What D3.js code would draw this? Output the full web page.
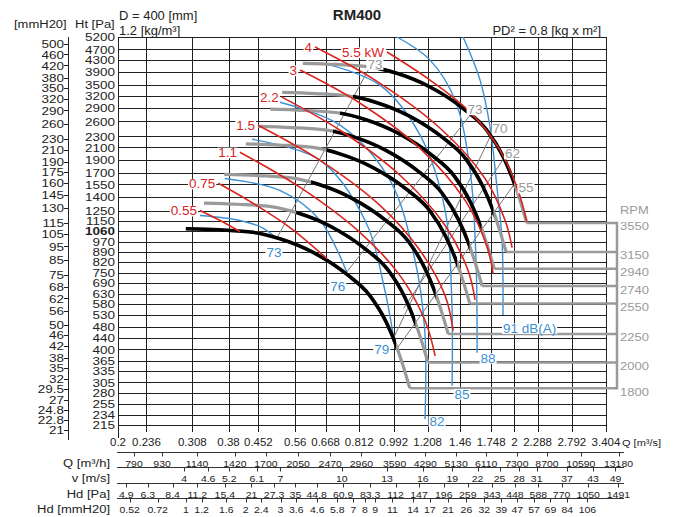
<!DOCTYPE html>
<html><head><meta charset="utf-8">
<script src="https://cdn.jsdelivr.net/npm/d3@7"></script>
<style>body{margin:0;background:#fff}svg{display:block}</style>
</head><body>
<script>
// ---------- DATA ----------
const qTicks=[0.2,0.236,0.308,0.38,0.452,0.56,0.668,0.812,0.992,1.208,1.46,1.748,2,2.288,2.792,3.404];
const paTicks=[5200,4700,4300,3900,3500,3200,2900,2600,2300,2100,1900,1700,1550,1400,1250,1150,1060,970,890,820,750,690,630,580,530,480,440,400,365,335,305,280,255,234,215];
const mmTicks=[500,460,420,380,350,320,290,260,230,210,190,175,160,145,130,115,105,95,85,75,68,62,56,50,46,42,38,35,32,29.5,27,24.8,22.8,21];
const qM3h=[790,930,1140,1420,1700,2050,2470,2960,3590,4290,5130,6110,7300,8700,10590,13180];
const vMs=[4,4.6,5.2,6.1,7,10,13,16,19,22,25,28,31,37,43,49];
const hdPa=[4.9,6.3,8.4,11.2,15.4,21,27.3,35,44.8,60.9,83.3,112,147,196,259,343,448,588,770,1050,1491];
const hdMm=[0.52,0.72,1,1.2,1.6,2,2.4,3,3.6,4.6,5.8,7,8,9,11,14,17,21,26,32,39,47,57,69,84,106];

const rpmList=[3550,3150,2940,2740,2550,2250,2000,1800];
const curve3550=[[0.585,4190],[0.71,4150],[0.864,4070],[1.01,3860],[1.225,3450],[1.486,2890],[1.703,2420],[1.875,1940],[1.987,1600],[2.066,1360],[2.148,1130]];
const curve3150=[[0.519,3299],[0.63,3267],[0.767,3204],[0.896,3039],[1.087,2716],[1.319,2275],[1.511,1905],[1.664,1527],[1.763,1260],[1.833,1071],[1.906,890]];
const curve2940=[[0.4845,2874],[0.588,2846],[0.7156,2792],[0.8365,2648],[1.0145,2366],[1.2307,1982],[1.4104,1660],[1.5529,1331],[1.6456,1097],[1.711,933],[1.779,775]];
const curve2740=[[0.4515,2496],[0.548,2472],[0.6668,2425],[0.7795,2300],[0.9455,2055],[1.1469,1722],[1.3144,1442],[1.4472,1156],[1.5336,953],[1.5946,810],[1.6578,673]];
const curve2550=[[0.4202,2162],[0.51,2141],[0.6206,2100],[0.7255,1992],[0.8799,1780],[1.0674,1491],[1.2233,1249],[1.3468,1001],[1.4273,826],[1.484,702],[1.543,583]];
const curve2250=[[0.3708,1683],[0.45,1667],[0.5476,1635],[0.6401,1551],[0.7764,1386],[0.9418,1161],[1.0794,972],[1.1884,779],[1.2594,643],[1.3094,546],[1.3614,454]];
const curve2000=[[0.3296,1330],[0.4,1317],[0.4868,1292],[0.569,1225],[0.6901,1095],[0.8372,917],[0.9594,768],[1.0564,616],[1.1194,508],[1.1639,432],[1.2101,359]];
const curve1800=[[0.2966,1077],[0.36,1067],[0.4381,1046],[0.5121,992],[0.6211,887],[0.7534,743],[0.8635,622],[0.9507,499],[1.0075,411],[1.0475,350],[1.0891,291]];
const rpmCurves=[curve3550,curve3150,curve2940,curve2740,curve2550,curve2250,curve2000,curve1800];
const blackFrom=[0.864,0.783,0.726,0.697,0.671,0.614,0.563,0.29];
const blackTo=[1.995,1.77,1.652,1.54,1.433,1.265,1.124,1.005];

const kwLabels=['0.55','0.75','1.1','1.5','2.2','3','4','5.5 kW'];
const kwCurves=[
 [[0.322,1252],[0.362,1153],[0.406,1053]],
 [[0.358,1564],[0.43,1349],[0.543,1088],[0.673,843]],
 [[0.406,2019],[0.576,1512],[0.816,1044],[1.029,733],[1.19,507],[1.262,379]],
 [[0.451,2521],[0.647,1889],[0.916,1305],[1.156,901],[1.337,622],[1.401,467]],
 [[0.518,3173],[0.726,2418],[1.029,1671],[1.337,1106],[1.528,764],[1.591,601]],
 [[0.576,3963],[0.816,3019],[1.156,2085],[1.502,1359],[1.706,930],[1.767,745]],
 [[0.628,4789],[0.89,3650],[1.299,2458],[1.686,1628],[1.895,1152],[1.973,923]],
 [[0.954,4597],[1.225,3650],[1.546,2805],[1.84,2051],[2.042,1478],[2.151,1134]]
];
const dbLabels=['73','76','79','82','85','88','91 dB(A)'];
const dbCurves=[
 [[0.322,1201],[0.406,1153],[0.4615,1088],[0.5006,1002]],
 [[0.372,1628],[0.512,1475],[0.647,1153],[0.755,755]],
 [[0.436,2245],[0.647,1889],[0.84,1153],[0.943,647],[0.992,440]],
 [[0.512,3042],[0.726,2521],[0.971,1602],[1.123,829],[1.188,467],[1.19,226]],
 [[0.673,4163],[0.916,3502],[1.156,2322],[1.337,1252],[1.39,597],[1.392,297]],
 [[1.011,5200],[1.225,4301],[1.417,3096],[1.546,1740],[1.6,828],[1.61,389]],
 [[1.484,5200],[1.638,3650],[1.736,2479],[1.807,1512],[1.861,978],[1.871,531]]
];
const effLabels=['73','73','70','62','55'];
const effBottom=[[0.504,1002],[0.755,755],[0.992,440],[1.05,560],[1.005,398]];
const effTop=[[0.864,4071],[1.546,2737],[1.736,2289],[1.866,1889],[1.995,1550]];

// ---------- DRAW ----------
const W=681,H=517,X0=118,X1=606,Y0=37,Y1=425;
const FONT='"Liberation Sans", Arial, Helvetica, sans-serif';
const RED='#d8261f',BLUE='#3c8fd3',GRAY='#9a9a9a';
const svg=d3.select('body').append('svg').attr('width',W).attr('height',H).attr('font-family',FONT);
const x=d3.scaleLog().domain([0.2,3.404]).range([X0,X1]);
const y=d3.scaleLog().domain([215,5200]).range([Y1,Y0]);
const r5=v=>Math.round(v)+0.5;

function T(g,px,py,str,o={}){
  const t=g.append('text').attr('transform',`translate(${px},${py}) scale(1,${o.sy||1})`)
    .attr('text-anchor',o.anchor||'start').attr('font-size',o.size||12)
    .attr('fill',o.fill||'#222').attr('font-weight',o.weight||'normal').text(str);
  if(o.bg){
    const b=t.node().getBBox();
    g.insert('rect',()=>t.node()).attr('transform',`translate(${px},${py}) scale(1,${o.sy||1})`)
     .attr('x',b.x-1).attr('y',b.y+2).attr('width',b.width+2).attr('height',b.height-4).attr('fill','#fff');
  }
  return t;
}

svg.append('defs').append('clipPath').attr('id','plot').append('rect')
  .attr('x',X0).attr('y',Y0).attr('width',X1-X0).attr('height',Y1-Y0);

// grid
const grid=svg.append('g').attr('stroke','#222').attr('stroke-width',1);
paTicks.forEach(p=>grid.append('line').attr('x1',X0).attr('x2',X1).attr('y1',r5(y(p))).attr('y2',r5(y(p))));
qTicks.forEach(q=>grid.append('line').attr('x1',r5(x(q))).attr('x2',r5(x(q))).attr('y1',Y0).attr('y2',432));
// axis lines
svg.append('line').attr('x1',118.5).attr('x2',118.5).attr('y1',Y0).attr('y2',438).attr('stroke','#222');
svg.append('line').attr('x1',68.5).attr('x2',68.5).attr('y1',Y0).attr('y2',440).attr('stroke','#222');

// left labels
const ax=svg.append('g');
paTicks.forEach(p=>T(ax,115,y(p)+4.2,String(p),{anchor:'end',size:13.5,sy:0.78,fill:'#222',weight:p===1060?'bold':'normal'}));
mmTicks.forEach(m=>{
  const yy=y(m*9.80665);
  ax.append('line').attr('x1',64).attr('x2',68).attr('y1',r5(yy)).attr('y2',r5(yy)).attr('stroke','#222');
  T(ax,64,yy+4.2,String(m),{anchor:'end',size:13.5,sy:0.76});
});
T(ax,14,28,'[mmH20]',{size:13,sy:0.9});
T(ax,75,28,'Ht [Pa]',{size:13,sy:0.9});
T(ax,119,20,'D = 400 [mm]',{size:13,sy:0.95});
T(ax,119,35,'1.2 [kg/m³]',{size:13,sy:0.95});
T(ax,357,20,'RM400',{size:15,weight:'bold',anchor:'middle'});
T(ax,601,35,'PD² = 0.8 [kg x m²]',{size:13,sy:0.95,anchor:'end'});

// top Q axis labels
qTicks.forEach(q=>T(ax,x(q),446,String(q),{anchor:'middle',size:11.5,sy:0.9}));
T(ax,622,446,'Q [m³/s]',{size:11,sy:0.9});

// bottom rows
const A=0.0734, rho=1.2;
const posQ=v=>x(v/3600), posV=v=>x(v*A), posHd=h=>x(A*Math.sqrt(2*h/rho)), posMm=m=>posHd(m*9.80665);
const rows=[
  {name:'Q [m³/h]',vals:qM3h,pos:posQ,line:452.5,base:467},
  {name:'v [m/s]',vals:vMs,pos:posV,line:467.5,base:482},
  {name:'Hd [Pa]',vals:hdPa,pos:posHd,line:483.5,base:498},
  {name:'Hd [mmH20]',vals:hdMm,pos:posMm,line:498.5,base:513}
];
rows.forEach(r=>{
  ax.append('line').attr('x1',117).attr('x2',624).attr('y1',r.line).attr('y2',r.line).attr('stroke','#333');
  r.vals.forEach(v=>{
    ax.append('line').attr('x1',r5(r.pos(v))).attr('x2',r5(r.pos(v))).attr('y1',r.line).attr('y2',r.line+4).attr('stroke','#333');
  });
});
rows.forEach(r=>{
  r.vals.forEach(v=>T(ax,r.pos(v),r.base,String(v),{anchor:'middle',size:10.5,sy:0.9}));
  T(ax,110,r.base,r.name,{anchor:'end',size:13,sy:0.9});
});

const plot=svg.append('g').attr('clip-path','url(#plot)');
const lineGen=d3.line().x(d=>x(d[0])).y(d=>y(d[1])).curve(d3.curveCatmullRom.alpha(0.5));
const lineMono=d3.line().x(d=>x(d[0])).y(d=>y(d[1])).curve(d3.curveMonotoneX);

// efficiency lines
effBottom.forEach((b,i)=>{
  plot.append('path').attr('d',d3.line().x(d=>x(d[0])).y(d=>y(d[1]))([b,effTop[i]]))
    .attr('stroke','#777').attr('stroke-width',1).attr('fill','none');
});
// blue noise curves
dbCurves.forEach(c=>plot.append('path').attr('d',lineGen(c)).attr('stroke',BLUE).attr('stroke-width',1.4).attr('fill','none'));

// RPM curves
const defs=svg.select('defs');
rpmCurves.forEach((c,i)=>{
  const last=c[c.length-1];
  svg.append('path').attr('d',d3.line()([[x(last[0]),y(last[1])],[617,y(last[1])]]))
    .attr('stroke',GRAY).attr('stroke-width',2.5).attr('fill','none');
  plot.append('path').attr('d',lineMono(c)).attr('stroke',GRAY).attr('stroke-width',3.2).attr('fill','none');
  defs.append('clipPath').attr('id','bk'+i).append('rect')
    .attr('x',x(blackFrom[i])).attr('y',0).attr('width',x(blackTo[i])-x(blackFrom[i])).attr('height',H);
  plot.append('path').attr('d',lineMono(c)).attr('clip-path',`url(#bk${i})`)
    .attr('stroke','#000').attr('stroke-width',3.6).attr('fill','none');
});
const yTop=y(rpmCurves[0][rpmCurves[0].length-1][1]), yBot=y(curve1800[curve1800.length-1][1]);
svg.append('line').attr('x1',617).attr('x2',617).attr('y1',yTop-1.2).attr('y2',yBot+1.2).attr('stroke',GRAY).attr('stroke-width',2.5);
T(svg,620,214,'RPM',{size:13,sy:0.85,fill:GRAY});
rpmCurves.forEach((c,i)=>{
  const last=c[c.length-1];
  T(svg,620,y(last[1])+7.5,String(rpmList[i]),{size:13,sy:0.85,fill:GRAY});
});

// red kW curves
kwCurves.forEach(c=>plot.append('path').attr('d',lineGen(c)).attr('stroke',RED).attr('stroke-width',1.6).attr('fill','none'));

// labels
const lab=svg.append('g');
kwCurves.forEach((c,i)=>{
  T(lab,x(c[0][0])-3,y(c[0][1])+5,kwLabels[i],{anchor:'end',size:13.5,sy:0.9,fill:RED,bg:true});
});
const dbOff=[[-2,19],[-9,19],[-12,16],[12,7],[10,13],[11,10],[0,18]];
dbCurves.forEach((c,i)=>{
  const e=c[c.length-1];
  T(lab,x(e[0])+dbOff[i][0],y(e[1])+dbOff[i][1],dbLabels[i],{anchor:i==6?'start':'middle',size:13.5,sy:0.9,fill:BLUE,bg:true});
});
const effOff=[[5,2],[5,-1],[10,-4],[10,-2],[12,8]];
effTop.forEach((t,i)=>{
  T(lab,x(t[0])+effOff[i][0],y(t[1])+effOff[i][1],effLabels[i],{anchor:'middle',size:13.5,sy:0.9,fill:GRAY,bg:true});
});
</script>
</body></html>
